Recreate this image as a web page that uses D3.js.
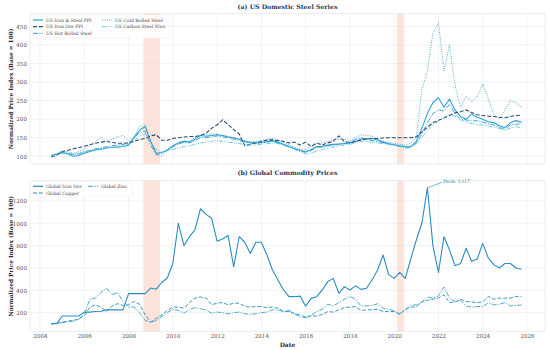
<!DOCTYPE html>
<html><head><meta charset="utf-8">
<script src="https://cdn.jsdelivr.net/npm/d3@7"></script>
<style>body{margin:0;background:#fff} svg{display:block} text{font-family:"DejaVu Serif",serif}</style>
</head><body><svg id="c" width="550" height="350"></svg>
<script>
// quarterly observation dates (decimal years), 2004 Q3 .. 2025 Q4
const dates = d3.range(2004.5, 2025.76, 0.25);

const steelPPI = [100,105,
 110,106,100,102, 108,113,117,118, 122,124,124,126, 130,150,170,180, 140,108,110,116,
 128,136,140,138, 146,156,154,156, 158,156,152,150, 146,140,137,136, 137,140,142,138,
 132,126,120,116, 112,118,126,126, 130,132,133,134, 136,140,146,148, 148,144,138,134,
 131,128,126,126, 140,175,215,245, 258,232,254,225, 207,200,214,205, 200,193,190,182,
 177,190,196,192];
const orePPI = [98,103,
 112,116,120,123, 127,131,135,138, 140,137,135,135, 136,140,145,148, 155,158,143,143,
 148,150,152,153, 153,156,162,175, 185,198,185,172, 160,128,132,136, 140,144,144,142,
 140,136,138,130, 138,126,136,130, 136,140,155,140, 136,140,144,146, 147,148,149,150,
 150,150,150,150, 152,165,178,190, 197,203,210,217, 220,225,218,212, 210,208,207,205,
 204,207,210,211];
const hotRolled = [102,106,
 112,108,104,106, 112,116,120,122, 126,128,130,132, 135,148,165,168, 130,104,108,118,
 125,132,138,136, 142,150,150,152, 155,152,150,146, 142,138,136,135, 136,138,140,136,
 130,125,120,115, 110,115,124,125, 128,130,132,135, 138,145,150,146, 142,140,136,132,
 130,126,122,124, 135,160,190,215, 225,222,240,215, 200,198,195,196, 192,188,184,178,
 172,185,186,188];
const coldRolled = [100,106,
 115,112,108,112, 120,128,138,150, 140,146,152,156, 142,152,180,185, 142,104,100,114,
 128,136,142,140, 150,158,158,160, 160,156,154,150, 146,142,140,140, 142,146,148,144,
 138,130,124,120, 118,126,134,136, 140,144,146,145, 142,150,158,156, 154,145,140,138,
 135,132,130,136, 150,279,330,432, 460,330,400,290, 232,262,248,260, 295,255,212,202,
 225,250,245,232];
const steelWire = [100,104,
 108,108,106,108, 112,115,118,120, 122,124,126,128, 132,140,155,160, 138,118,112,115,
 118,122,126,128, 132,136,138,140, 142,140,138,136, 134,132,130,130, 132,134,136,134,
 130,124,118,112, 106,108,114,118, 122,125,128,130, 132,136,140,140, 138,136,134,132,
 130,127,125,126, 134,150,170,185, 195,205,212,208, 198,192,188,186, 184,182,178,175,
 170,176,180,176];

const ironOre = [100,100,
 170,170,170,170, 205,205,210,212, 225,225,225,225, 370,370,370,370, 420,410,470,510,
 640,1000,800,880, 940,1130,1080,1045, 840,860,890,610, 880,830,730,830, 830,716,582,492,
 403,343,343,348, 258,328,343,403, 478,507,373,433, 403,440,408,418, 492,582,716,540,
 507,560,507,680, 850,1000,1317,800, 560,880,760,620, 640,776,660,680, 820,690,630,600,
 640,640,600,588];
const copper = [100,105,
 115,125,130,145, 170,250,270,250, 210,260,280,265, 270,300,275,180, 115,150,180,220,
 250,250,240,290, 330,340,330,270, 285,290,270,285, 285,255,250,255, 255,245,250,240,
 210,210,190,180, 160,170,170,185, 210,205,225,245, 250,255,220,225, 225,230,210,210,
 210,185,230,250, 250,300,310,320, 330,360,290,295, 320,300,295,290, 295,345,320,330,
 330,330,345,345];
const zinc = [100,105,
 110,115,125,140, 190,320,330,380, 420,360,380,300, 250,250,200,130, 115,130,165,200,
 230,220,195,230, 245,235,225,195, 205,200,190,200, 205,190,185,190, 200,205,225,225,
 210,220,190,160, 155,175,210,230, 275,260,290,320, 345,320,260,260, 265,280,240,230,
 215,190,225,265, 270,290,340,330, 350,430,330,300, 310,260,250,255, 255,290,270,275,
 290,260,265,268];

const recessions = [[2008.67, 2009.42], [2020.12, 2020.45]];
const xTicks = [2004,2006,2008,2010,2012,2014,2016,2018,2020,2022,2024,2026];
const yTicksA = [100,150,200,250,300,350,400,450];
const yTicksB = [200,400,600,800,1000,1200];

const svg = d3.select("#c");
const X0 = 30, X1 = 545;
const x = d3.scaleLinear().domain([2003.548, 2026.813]).range([X0, X1]);

const panels = [
  {title:"(a) US Domestic Steel Series", titleY:8.8, top:13.7, bottom:164,
   domain:[79,484.5], ticks:yTicksA, xlabels:false,
   series:[
    {name:"US Iron & Steel PPI", v:steelPPI, c:"#2aa3d5", d:null, w:1.1},
    {name:"US Iron Ore PPI", v:orePPI, c:"#2d4b6f", d:"4,1.8", w:1.1},
    {name:"US Hot Rolled Steel", v:hotRolled, c:"#3399c9", d:"5,1.4,1.2,1.4", w:0.9},
    {name:"US Cold Rolled Steel", v:coldRolled, c:"#3f9fca", d:"1,1.4", w:0.9},
    {name:"US Carbon Steel Wire", v:steelWire, c:"#5cc3e0", d:"4,1.2,1,1.2,1,1.2", w:0.9}],
   legend:{x:31, y:15, w:138, h:23, pos:[[33,20],[33,26.7],[33,33.3],[102,20],[102,26.7]]}},
  {title:"(b) Global Commodity Prices", titleY:175.3, top:180.7, bottom:331.7,
   domain:[29.5,1381], ticks:yTicksB, xlabels:true,
   series:[
    {name:"Global Iron Ore", v:ironOre, c:"#2b8dc0", d:null, w:1.1},
    {name:"Global Copper", v:copper, c:"#2b8dc0", d:"4,1.8", w:0.9},
    {name:"Global Zinc", v:zinc, c:"#3a9ecd", d:"5,1.4,1.2,1.4", w:0.9}],
   legend:{x:31, y:182, w:102, h:15, pos:[[33,186.3],[33,193],[88,186.3]]}}
];

panels.forEach((p, pi) => {
  const y = d3.scaleLinear().domain(p.domain).range([p.bottom, p.top]);
  const g = svg.append("g");
  // grid
  g.selectAll(".hg").data(p.ticks).enter().append("line")
    .attr("x1", X0).attr("x2", X1).attr("y1", d => y(d)).attr("y2", d => y(d))
    .attr("stroke", "#e9edf1").attr("stroke-width", 0.7);
  g.selectAll(".vg").data(xTicks).enter().append("line")
    .attr("x1", d => x(d)).attr("x2", d => x(d)).attr("y1", p.top).attr("y2", p.bottom)
    .attr("stroke", "#e9edf1").attr("stroke-width", 0.7);
  // recession shading
  g.selectAll(".rec").data(recessions).enter().append("rect")
    .attr("x", d => x(d[0])).attr("width", d => x(d[1]) - x(d[0]))
    .attr("y", p.top).attr("height", p.bottom - p.top)
    .attr("fill", "#fbd5c6").attr("opacity", 0.65);
  // frame
  g.append("rect").attr("x", X0).attr("y", p.top).attr("width", X1 - X0).attr("height", p.bottom - p.top)
    .attr("fill", "none").attr("stroke", "#e2e5e8").attr("stroke-width", 0.7);
  // lines
  const line = d3.line().x((d, i) => x(dates[i])).y(d => y(d));
  p.series.forEach(s => {
    g.append("path").datum(s.v).attr("d", line)
      .attr("fill", "none").attr("stroke", s.c).attr("stroke-width", s.w)
      .attr("stroke-dasharray", s.d).attr("stroke-linejoin", "round");
  });
  // y axis
  const ya = d3.axisLeft(y).tickValues(p.ticks).tickSize(0).tickPadding(3).tickFormat(d3.format("d"));
  const yg = g.append("g").attr("transform", `translate(${X0},0)`).call(ya);
  yg.select(".domain").remove();
  yg.selectAll("text").attr("font-size", 5.6).attr("fill", "#555").attr("font-family", "DejaVu Serif");
  // x axis
  if (p.xlabels) {
    const xa = d3.axisBottom(x).tickValues(xTicks).tickSize(0).tickPadding(2.5).tickFormat(d3.format("d"));
    const xg = g.append("g").attr("transform", `translate(0,${p.bottom})`).call(xa);
    xg.select(".domain").remove();
    xg.selectAll("text").attr("font-size", 5.6).attr("fill", "#555").attr("font-family", "DejaVu Serif");
    g.append("text").attr("x", (X0 + X1) / 2).attr("y", 346.5).attr("text-anchor", "middle")
      .attr("font-size", 6).attr("font-weight", "bold").attr("fill", "#2a2a3a").text("Date");
  }
  // y label
  const cy = (p.top + p.bottom) / 2;
  g.append("text").attr("transform", `translate(13,${cy}) rotate(-90)`).attr("text-anchor", "middle")
    .attr("font-size", 5.8).attr("font-weight", "bold").attr("fill", "#2a2a3a")
    .text("Normalized Price Index (Base = 100)");
  // title
  g.append("text").attr("x", (X0 + X1) / 2).attr("y", p.titleY).attr("text-anchor", "middle")
    .attr("font-size", 6.2).attr("font-weight", "bold").attr("fill", "#1c3a5e").text(p.title);
  // legend
  const L = p.legend;
  g.append("rect").attr("x", L.x).attr("y", L.y).attr("width", L.w).attr("height", L.h)
    .attr("fill", "#fff").attr("fill-opacity", 0.85).attr("stroke", "#eeeeee").attr("stroke-width", 0.5).attr("rx", 1);
  p.series.forEach((s, i) => {
    const [lx, ly] = L.pos[i];
    g.append("line").attr("x1", lx).attr("x2", lx + 10).attr("y1", ly).attr("y2", ly)
      .attr("stroke", s.c).attr("stroke-width", s.w + 0.1).attr("stroke-dasharray", s.d);
    g.append("text").attr("x", lx + 13).attr("y", ly + 1.6).attr("font-size", 4.5).attr("fill", "#444").text(s.name);
  });
  // annotation
  if (pi === 1) {
    const mi = d3.maxIndex(ironOre);
    const px = x(dates[mi]), py = y(ironOre[mi]);
    g.append("line").attr("x1", px).attr("y1", py).attr("x2", 442).attr("y2", 182.3)
      .attr("stroke", "#2b8dc0").attr("stroke-width", 0.6);
    g.append("text").attr("x", 443).attr("y", 183.3).attr("font-size", 4.8).attr("fill", "#2b8dc0")
      .text("Peak: " + ironOre[mi]);
  }
});
</script></body></html>
